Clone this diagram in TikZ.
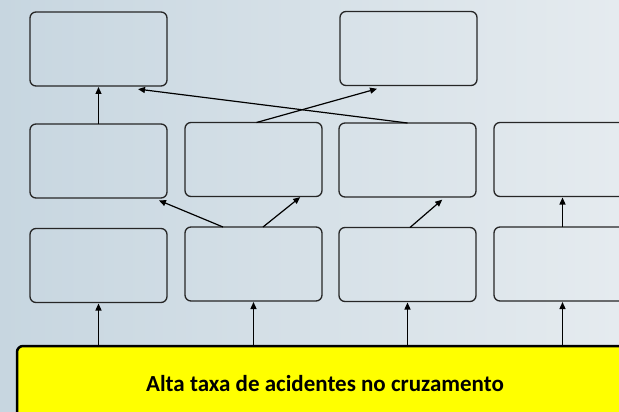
\documentclass[tikz,border=0pt]{standalone}
\usepackage{fontspec}
\setmainfont{Carlito}
\usetikzlibrary{arrows.meta}
\definecolor{treeBgLeft}{HTML}{C7D6E0}
\definecolor{treeBgRight}{HTML}{E5EBEF}
\definecolor{treeYellow}{HTML}{FFFF00}
\tikzset{
  tree diagram/.style={
    x=1pt, y=-1pt, line width=1.2pt,
    >={Triangle[length=7pt,width=6pt]},
    every node/.style={inner sep=0pt, outer sep=0pt}
  },
  tree box/.style={draw=black!85, line width=1.3pt, rounded corners=6pt,
    minimum width=137pt, minimum height=74pt},
  cause box/.style={draw=black, line width=2.5pt, fill=treeYellow,
    rounded corners=6pt, minimum width=616pt, minimum height=76pt,
    font=\fontsize{23}{27}\selectfont\bfseries},
  tree link/.style={->, shorten >=1pt}
}

\begin{document}
\begin{tikzpicture}[tree diagram]
    \useasboundingbox (0,0) rectangle (619,412);
    \clip (0,0) rectangle (619,412);
    \shade[left color=treeBgLeft, right color=treeBgRight] (0,0) rectangle (619,412);
    % top row
    \node[tree box] (A) at (98.5,49) {};
    \node[tree box] (B) at (408.5,48.5) {};
    % middle row
    \node[tree box] (C) at (98.5,161) {};
    \node[tree box] (D) at (253.5,159.5) {};
    \node[tree box] (E) at (407.5,160) {};
    \node[tree box] (F) at (562.5,159.5) {};
    % bottom row
    \node[tree box] (G) at (98.5,265.5) {};
    \node[tree box] (H) at (253.5,264) {};
    \node[tree box] (I) at (407.5,264.5) {};
    \node[tree box] (J) at (562.5,264) {};
    % problem
    \node[cause box] (cause) at (325,384) {Alta taxa de acidentes no cruzamento};
    \foreach \b in {G,H,I,J}
      \draw[tree link] (cause.north -| \b.south) -- (\b.south);
    \draw[tree link] ([xshift=-30.5pt]H.north) -- ([xshift=-9pt,yshift=-2pt]C.south east);
    \draw[tree link] ([xshift=9.5pt]H.north) -- ([xshift=-21pt]D.south east);
    \draw[tree link] ([xshift=2.5pt]I.north) -- ([xshift=-33pt,yshift=-2pt]E.south east);
    \draw[tree link] (J.north) -- (F.south);
    \draw[tree link] (C.north) -- (A.south);
    \draw[tree link] (E.north) -- ([xshift=-30pt,yshift=-3pt]A.south east);
    \draw[tree link] ([xshift=3pt]D.north) -- ([xshift=-30.5pt,yshift=-3pt]B.south);
\end{tikzpicture}
\end{document}
